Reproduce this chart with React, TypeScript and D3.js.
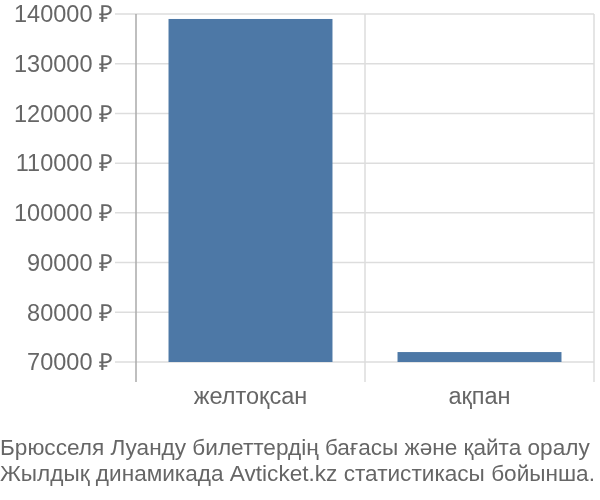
import { useEffect, useRef } from "react";
import * as d3 from "d3";

const categories = ["желтоқсан", "ақпан"];
const prices = [139000, 72000];
const yTicks = [70000, 80000, 90000, 100000, 110000, 120000, 130000, 140000];
const footerLines = [
  "Брюсселя Луанду билеттердің бағасы және қайта оралу",
  "Жылдық динамикада Avticket.kz статистикасы бойынша.",
];

export default function App() {
  const svgRef = useRef<SVGSVGElement>(null);

  useEffect(() => {
    if (!svgRef.current) return;
    const svg = d3.select(svgRef.current);
    svg.selectAll("*").remove();

    const font = "'Liberation Sans', Arial, sans-serif";
    const left = 136;
    const right = 594;
    const top = 14;
    const bottom = 362;

    const x = d3
      .scaleBand<string>()
      .domain(categories)
      .range([left, right])
      .paddingInner(0.284)
      .paddingOuter(0.142);

    const y = d3.scaleLinear().domain([70000, 140000]).range([bottom, top]);

    // horizontal gridlines + tick marks
    svg
      .append("g")
      .selectAll("line")
      .data(yTicks)
      .join("line")
      .attr("x1", 115)
      .attr("x2", right)
      .attr("y1", (d) => y(d))
      .attr("y2", (d) => y(d))
      .attr("stroke", "#dddddd")
      .attr("stroke-width", 1.5);

    // vertical gridlines at band edges
    const edges = [left, left + x.step(), right];
    svg
      .append("g")
      .selectAll("line")
      .data(edges)
      .join("line")
      .attr("x1", (d) => d)
      .attr("x2", (d) => d)
      .attr("y1", top)
      .attr("y2", 382)
      .attr("stroke", (d, i) => (i === 0 ? "#aaaaaa" : "#dddddd"))
      .attr("stroke-width", 1.5);

    // bars
    svg
      .append("g")
      .selectAll("rect")
      .data(prices)
      .join("rect")
      .attr("x", (d, i) => x(categories[i])!)
      .attr("width", x.bandwidth())
      .attr("y", (d) => y(d))
      .attr("height", (d) => bottom - y(d))
      .attr("fill", "#4d78a6");

    // y tick labels
    svg
      .append("g")
      .selectAll("text")
      .data(yTicks)
      .join("text")
      .attr("x", 113)
      .attr("y", (d) => y(d))
      .attr("dy", "0.35em")
      .attr("text-anchor", "end")
      .style("font-family", font)
      .style("font-size", "23.5px")
      .attr("fill", "#666666")
      .text((d) => `${d} ₽`);

    // category labels
    svg
      .append("g")
      .selectAll("text")
      .data(categories)
      .join("text")
      .attr("x", (d) => x(d)! + x.bandwidth() / 2)
      .attr("y", 404)
      .attr("text-anchor", "middle")
      .style("font-family", font)
      .style("font-size", "23.5px")
      .attr("fill", "#666666")
      .text((d) => d);

    // footer
    svg
      .append("g")
      .selectAll("text")
      .data(footerLines)
      .join("text")
      .attr("x", 0)
      .attr("y", (d, i) => 455 + i * 26)
      .style("font-family", font)
      .style("font-size", "22.6px")
      .attr("fill", "#666666")
      .text((d) => d);
  }, []);

  return (
    <div style={{ position: "fixed", left: 0, top: 0 }}>
      <svg ref={svgRef} width={600} height={500} style={{ display: "block" }} />
    </div>
  );
}
